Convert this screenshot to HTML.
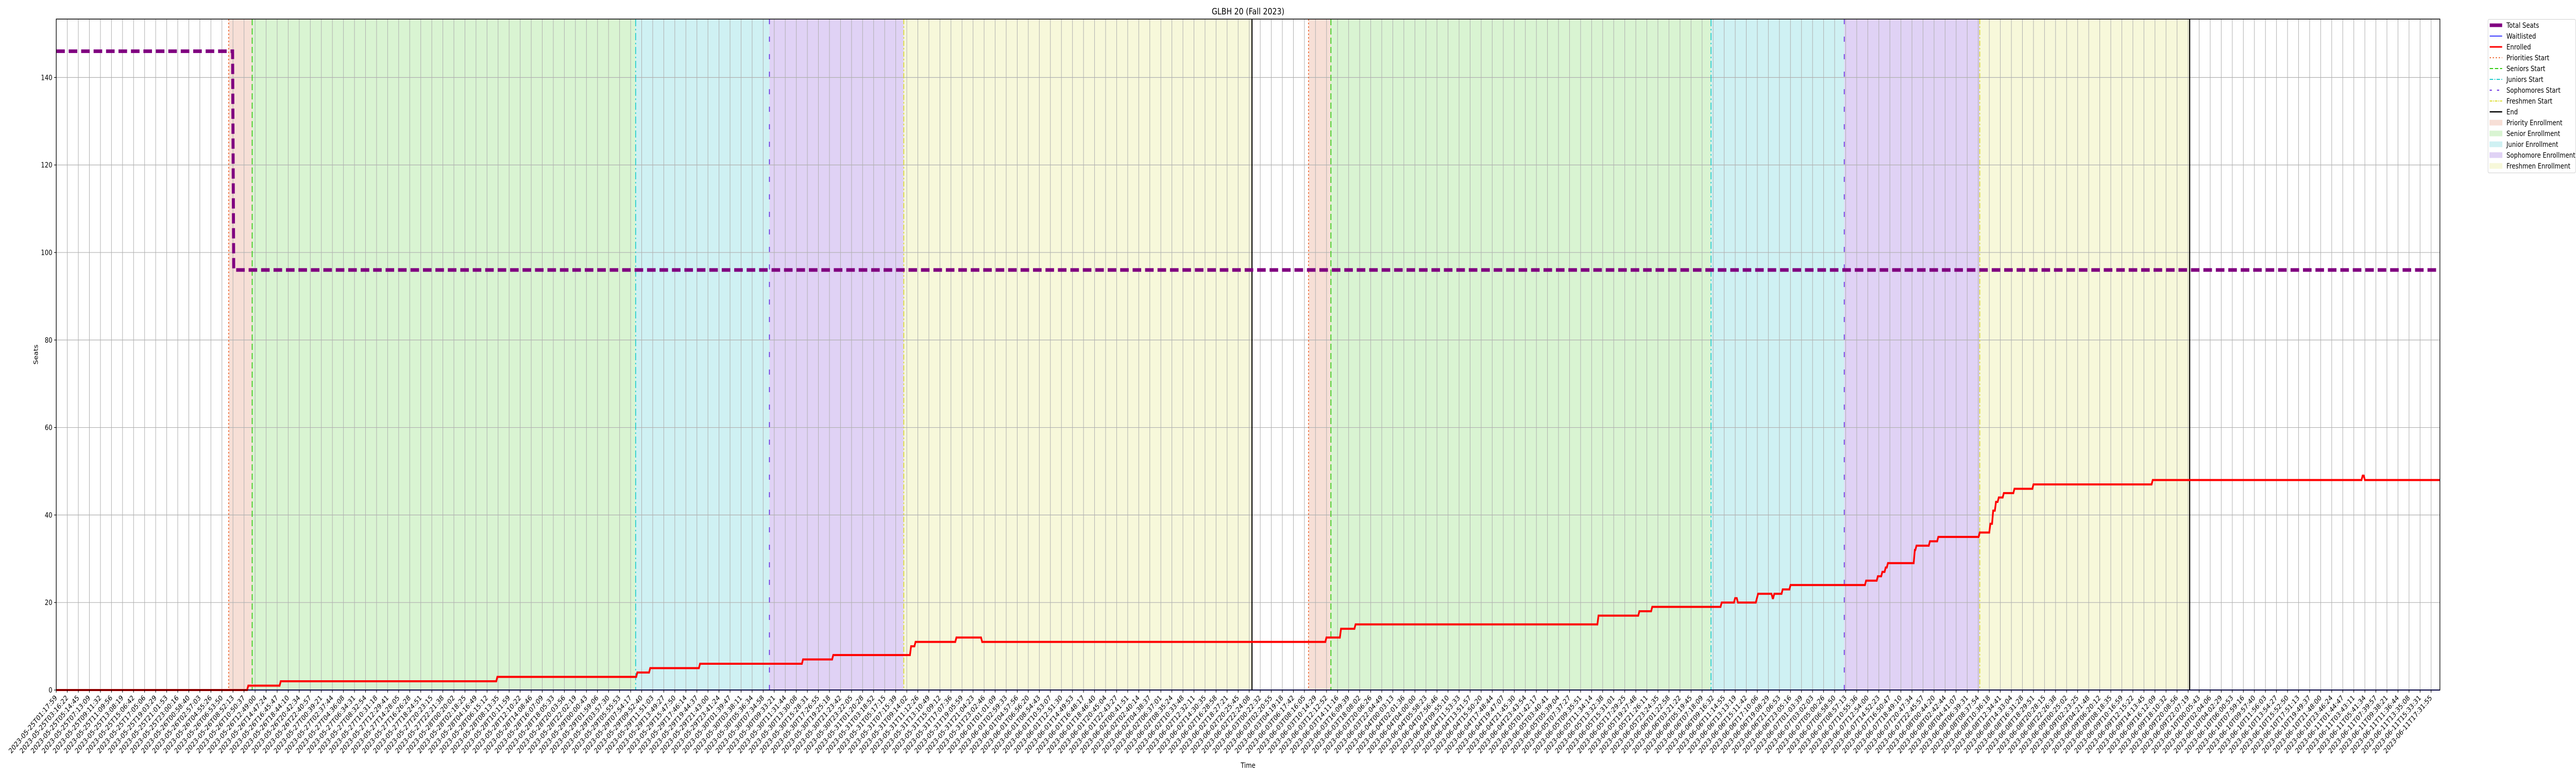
<!DOCTYPE html>
<html><head><meta charset="utf-8"><style>
html,body{margin:0;padding:0;background:#fff;width:100%;height:100%;overflow:hidden;}
svg{display:block;font-family:"DejaVu Sans","Liberation Sans",sans-serif;overflow:hidden;width:100vw;height:100vh;}
</style></head><body>
<svg id="chart" viewBox="0 0 6000 1500" preserveAspectRatio="none" xmlns="http://www.w3.org/2000/svg">
<rect width="6000" height="1500" fill="#fff"/>
<g id="bands"></g><g id="grid"></g><g id="vlines"></g><g id="series"></g><g id="axes"></g><g id="legend"></g>
</svg>
<script>
// ---- data ----
const phaseNames = ["Priority","Senior","Junior","Sophomore","Freshmen"];
const phaseStarts1 = [30.8, 35.0, 103.5, 127.4, 151.4];
const phaseStarts2 = [223.7, 227.7, 295.6, 319.4, 343.6];
const endTimes = [213.6, 381.1];
const enrollTimes = [34.3,40.1,78.8,103.8,106.1,115.0,133.4,138.8,152.7,153.5,160.8,165.4,226.9,229.5,232.1,275.5,282.8,285.1,297.5,299.9,300.4,303.8,304.0,306.6,306.9,308.4,309.8,323.3,325.4,326.2,326.8,327.2,332.0,332.3,334.7,336.2,343.6,345.5,346.0,346.5,347.0,347.9,349.8,353.2,374.5,412.0,412.4];
const enrollValues = [1,2,3,4,5,6,7,8,10,11,12,11,12,14,15,17,18,19,20,21,20,21,22,21,22,23,24,25,26,27,28,29,32,33,34,35,36,38,41,43,44,45,46,47,48,49,48];
const seatTimes = [31.7];
const seatValues = [146, 96];
const waitValues = [0];
const yTicks = [0,20,40,60,80,100,120,140];
const tickCount = 216;
const tickStartISO = "2023-05-25T01:17:59";
const tickEndISO = "2023-06-11T17:31:55";

// ---- layout ----
const L=131, R=5683, T=37, B=1339;
const tMax = 425.8, yMax = 153.35;
const xs = h => L + h*(R-L)/tMax;
const ys = v => B - v*(B-T)/yMax;
const NS="http://www.w3.org/2000/svg";
function mk(tag, parent, attrs){const e=document.createElementNS(NS,tag);for(const k in attrs)e.setAttribute(k,attrs[k]);parent.appendChild(e);return e;}

const bandColors=["#f7dfd6","#d9f4d2","#cff1f3","#e0d2f5","#f7f8da"];
const lineColors=["#ee6a33","#33cc11","#22cccc","#6a2de0","#dddd33"];
const dashes=["3,4","12,6","14,5,3,5","10,24","10,4,3,4"];
const bands=document.getElementById('bands'), vl=document.getElementById('vlines');
[phaseStarts1,phaseStarts2].forEach((starts,k)=>{
  starts.forEach((s,i)=>{
    const e = i<starts.length-1 ? starts[i+1] : endTimes[k];
    const r=mk('rect',bands,{x:xs(s),y:T,width:xs(e)-xs(s),height:B-T,fill:bandColors[i]});
    
    
    const l=mk('line',vl,{x1:xs(s),x2:xs(s),y1:T,y2:B,stroke:lineColors[i],'stroke-width':2,'stroke-dasharray':dashes[i]});
    
    
  });
  const el=mk('line',vl,{x1:xs(endTimes[k]),x2:xs(endTimes[k]),y1:T,y2:B,stroke:'#000','stroke-width':2.5});
  
  
});

// grid + ticks
const grid=document.getElementById('grid'), axes=document.getElementById('axes');
const t0=Date.parse(tickStartISO+"Z"), t1=Date.parse(tickEndISO+"Z");
const tickHours=(t1-t0)/3600000;
for(let i=0;i<tickCount;i++){
  const h=i*tickHours/(tickCount-1);
  const x=xs(h);
  mk('line',grid,{x1:x,x2:x,y1:T,y2:B,stroke:'#b0b0b0','stroke-width':1.2});
  mk('line',axes,{x1:x,x2:x,y1:B,y2:B+5,stroke:'#000','stroke-width':1.2});
  const lab=new Date(t0+h*3600000).toISOString().slice(0,19);
  const tx=mk('text',axes,{x:x+3,y:B+16,'font-size':14,'text-anchor':'end',transform:`rotate(-45 ${x+3} ${B+16})`,fill:'#000'});
  tx.textContent=lab;
  
  
}
yTicks.forEach(v=>{
  const y=ys(v);
  mk('line',grid,{x1:L,x2:R,y1:y,y2:y,stroke:'#b0b0b0','stroke-width':1.2});
  mk('line',axes,{x1:L-5,x2:L,y1:y,y2:y,stroke:'#000','stroke-width':1.2});
  const tx=mk('text',axes,{x:L-9,y:y+5,'font-size':14,'text-anchor':'end',fill:'#000'});
  tx.textContent=v;
  
  
});

// series
const ser=document.getElementById('series');
function stepPath(times, values){
  let d=`M${xs(0)},${ys(values[0])}`; let prev=values[0];
  times.forEach((t,i)=>{const v=values[i+1];
    d+=` L${xs(t-0.2)},${ys(prev)} L${xs(t)},${ys(v)}`; prev=v;});
  d+=` L${R},${ys(prev)}`; return d;
}
const wl=mk('line',ser,{x1:L,x2:R,y1:ys(waitValues[0]),y2:ys(waitValues[0]),stroke:'#0000ff','stroke-width':2});


const en=mk('path',ser,{d:stepPath(enrollTimes,[0].concat(enrollValues)),fill:'none',stroke:'#ff0000','stroke-width':4,'stroke-linejoin':'miter'});


const st=mk('path',ser,{d:stepPath(seatTimes,seatValues),fill:'none',stroke:'#800080','stroke-width':7,'stroke-dasharray':'20,9'});



// frame & titles
mk('rect',axes,{x:L,y:T,width:R-L,height:B-T,fill:'none',stroke:'#000','stroke-width':1.5});
const ti=mk('text',axes,{x:(L+R)/2,y:28,'font-size':17,'text-anchor':'middle'});ti.textContent="GLBH 20 (Fall 2023)";


const xt=mk('text',axes,{x:(L+R)/2,y:1490,'font-size':14,'text-anchor':'middle'});xt.textContent="Time";


const yt=mk('text',axes,{x:88,y:(T+B)/2,'font-size':14,'text-anchor':'middle',transform:`rotate(-90 88 ${(T+B)/2})`});yt.textContent="Seats";



// legend
const lg=document.getElementById('legend');
const lbox=mk('rect',lg,{x:5795,y:37.5,width:204,height:298,rx:3,fill:'#fff',stroke:'#d0d0d0','stroke-width':1});


const entries=[
 ["Total Seats","line","#800080",7,"none"],["Waitlisted","line","#0000ff",1.5,"none"],["Enrolled","line","#ff0000",3,"none"],
 ["Priorities Start","line",lineColors[0],2,"3,4"],["Seniors Start","line",lineColors[1],2,"8,4"],["Juniors Start","line",lineColors[2],2,"8,3,2,3"],
 ["Sophomores Start","line",lineColors[3],2,"5,12"],["Freshmen Start","line",lineColors[4],2,"6,2,2,2"],["End","line","#000",2.5,"none"],
 ["Priority Enrollment","rect",bandColors[0]],["Senior Enrollment","rect",bandColors[1]],["Junior Enrollment","rect",bandColors[2]],
 ["Sophomore Enrollment","rect",bandColors[3]],["Freshmen Enrollment","rect",bandColors[4]]];
entries.forEach((e,i)=>{
  const y=49+i*21;
  const g=mk('g',lg,{});
  
  
  if(e[1]==="line") mk('line',g,{x1:5799,x2:5828,y1:y,y2:y,stroke:e[2],'stroke-width':e[3],'stroke-dasharray':e[4]});
  else mk('rect',g,{x:5799,y:y-5,width:29,height:10,fill:e[2],stroke:e[2]});
  const t=mk('text',g,{x:5838,y:y+5,'font-size':14});t.textContent=e[0];
});
</script>
</body></html>
